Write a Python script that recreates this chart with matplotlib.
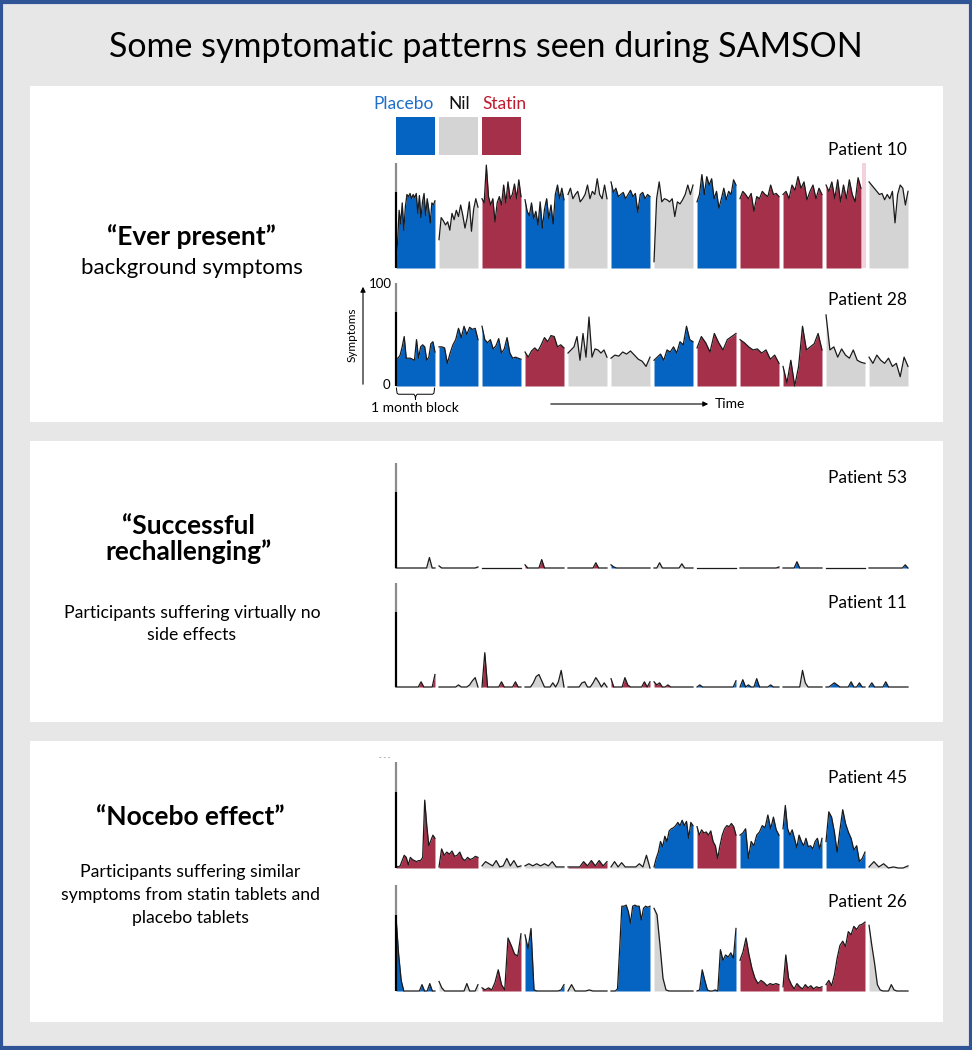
import numpy as np
import matplotlib.pyplot as plt
from matplotlib.patches import Rectangle
from matplotlib.transforms import blended_transform_factory

plt.rcParams["font.family"] = ["Lato", "DejaVu Sans"]

W, H = 972, 1050

# 配色：安慰剂 / 空白期 / 他汀
ARM_COLORS = {"P": "#0563C1", "N": "#D4D4D4", "S": "#A5304A"}
ARM_NAMES = ["Placebo", "Nil", "Statin"]
ARM_TEXT_COLORS = ["#1F6FC8", "#111111", "#C01A2E"]

# 每个病人：12 个月块的用药顺序 + 每块的症状评分 (0-100)
p10_arms = "PNSPNPNPSSSN"
p10_vals = [
    [3, 25, 55, 42, 62, 36, 58, 70, 68, 71, 66, 70, 67, 71, 52, 69, 48, 63, 71, 50, 66, 56, 43, 62, 60, 64],
    [27, 48, 45, 41, 44, 36, 52, 46, 55, 49, 60, 50, 38, 48, 63, 35, 56, 66, 58],
    [66, 62, 98, 68, 60, 66, 44, 62, 68, 60, 79, 62, 82, 66, 70, 80, 66, 84, 68],
    [65, 54, 50, 62, 47, 54, 41, 63, 38, 56, 66, 47, 60, 42, 70, 79, 66, 76, 65],
    [70, 76, 66, 70, 73, 63, 66, 70, 79, 66, 73, 70, 85, 70, 66, 79, 66],
    [82, 72, 76, 68, 70, 72, 66, 70, 74, 68, 71, 53, 70, 72, 66, 70, 68],
    [6, 66, 82, 63, 66, 65, 63, 66, 49, 63, 61, 65, 70, 79, 70, 79],
    [63, 70, 89, 70, 87, 79, 85, 66, 73, 57, 66, 76, 65, 73, 70, 84, 79],
    [66, 73, 70, 66, 71, 54, 68, 66, 73, 70, 68, 79, 70, 71, 68],
    [70, 73, 66, 79, 74, 87, 76, 82, 65, 73, 79, 66, 76, 70],
    [79, 73, 82, 66, 84, 63, 79, 66, 84, 70, 63, 86, 76],
    [82, 79, 76, 73, 70, 71, 65, 70, 66, 73, 43, 70, 79, 76, 60, 73],
]
p10_missing = {10: 26}  # 第 11 块只记录到第 26 天

p28_arms = "PPPSNNPSSSNN"
p28_vals = [
    [27, 27, 30, 38, 48, 27, 27, 27, 26, 25, 45, 27, 38, 40, 38, 25, 28, 41, 43, 33],
    [38, 38, 37, 22, 32, 40, 45, 56, 47, 58, 50, 57, 55, 56, 45],
    [58, 45, 42, 45, 36, 39, 46, 32, 36, 47, 32, 27, 28, 27, 26],
    [33, 28, 34, 37, 34, 40, 47, 43, 49, 48, 38, 40, 37],
    [32, 35, 38, 48, 25, 51, 28, 67, 28, 36, 35, 32, 35, 28],
    [27, 30, 29, 33, 31, 34, 30, 26, 24, 19, 28],
    [25, 28, 31, 25, 35, 33, 38, 32, 43, 40, 58, 45, 43],
    [37, 48, 42, 33, 51, 42, 35, 45, 48, 51],
    [45, 42, 38, 35, 36, 32, 35, 26, 30, 22],
    [19, 3, 25, 0, 19, 58, 35, 38, 41, 51, 35],
    [69, 35, 38, 28, 36, 30, 27, 35, 25, 23, 22],
    [28, 22, 30, 25, 22, 27, 19, 22, 9, 28, 19],
]

p53_arms = "NNSSSPNPSPNP"
p53_vals = [
    [0, 0, 0, 0, 0, 0, 0, 0, 0, 0, 0, 0, 10, 0, 0],
    [2, 0, 0, 0, 0, 0, 0, 0, 0, 0, 0, 0, 0, 0, 1],
    [0, 0, 0, 0, 0, 0, 0, 0, 0, 0, 0, 0, 0, 0, 0],
    [3, 0, 0, 0, 0, 0, 8, 0, 0, 0, 0, 0, 0, 0, 0],
    [0, 0, 0, 0, 0, 0, 0, 0, 0, 0, 5, 0, 0, 0, 0],
    [3, 1, 0, 0, 0, 0, 0, 0, 0, 0, 0, 0, 0, 0, 0],
    [0, 0, 5, 0, 0, 0, 0, 0, 0, 0, 4, 0, 0, 0, 0],
    [0, 0, 0, 0, 0, 0, 0, 0, 0, 0, 0, 0, 0, 0, 0],
    [0, 0, 0, 0, 0, 0, 0, 0, 0, 0, 0, 0, 0, 0, 1],
    [0, 0, 0, 0, 0, 6, 0, 0, 0, 0, 0, 0, 0, 0, 0],
    [0, 0, 0, 0, 0, 0, 0, 0, 0, 0, 0, 0, 0, 0, 0],
    [0, 0, 0, 0, 0, 0, 0, 0, 0, 0, 0, 0, 0, 3, 0],
]

p11_arms = "SNSNNSSPPNPP"
p11_vals = [
    [0, 0, 0, 0, 0, 0, 0, 0, 0, 5, 0, 0, 0, 0, 12],
    [0, 0, 0, 0, 0, 0, 0, 2, 0, 0, 0, 2, 6, 9, 0],
    [0, 33, 0, 0, 0, 0, 0, 5, 0, 0, 0, 0, 5, 0, 0],
    [0, 0, 0, 4, 10, 12, 6, 0, 0, 0, 4, 0, 5, 16, 0],
    [0, 0, 0, 0, 0, 4, 5, 0, 0, 4, 9, 5, 0, 4, 0],
    [8, 0, 0, 0, 0, 9, 2, 0, 0, 0, 0, 0, 5, 0, 5],
    [5, 2, 4, 0, 0, 2, 0, 0, 0, 0, 0, 0, 0, 0, 0],
    [0, 2, 0, 0, 0, 0, 0, 0, 0, 0, 0, 0, 0, 0, 6],
    [0, 7, 0, 2, 0, 0, 8, 0, 0, 0, 0, 2, 0, 0, 0],
    [0, 0, 0, 0, 0, 0, 0, 16, 4, 0, 0, 0, 0, 0, 0],
    [0, 0, 2, 4, 2, 0, 0, 0, 0, 5, 0, 0, 4, 0, 0],
    [0, 4, 0, 0, 0, 0, 5, 0, 0, 0, 0, 0, 0, 0, 0],
]

p45_arms = "SSNNSNPSPPPN"
p45_vals = [
    [2, 1, 2, 7, 12, 10, 3, 10, 8, 7, 6, 7, 7, 10, 64, 40, 21, 26, 31, 28],
    [1, 18, 12, 15, 13, 16, 11, 12, 15, 9, 7, 10, 8, 9, 11, 10],
    [2, 6, 4, 2, 7, 1, 2, 9, 2, 7, 1, 2],
    [2, 4, 2, 4, 2, 4, 2, 6, 1, 1, 1],
    [1, 1, 1, 1, 6, 2, 7, 2, 7, 2, 6],
    [1, 6, 1, 5, 1, 1, 1, 1, 4, 1, 12, 0],
    [1, 9, 15, 25, 20, 30, 25, 35, 37, 38, 40, 43, 40, 45, 40, 44, 28, 43, 40],
    [39, 31, 36, 33, 34, 31, 35, 25, 21, 9, 21, 31, 37, 40, 39, 42, 39, 31],
    [31, 33, 37, 9, 25, 21, 31, 34, 40, 38, 50, 37, 48, 36, 31],
    [37, 59, 37, 31, 36, 28, 19, 31, 25, 21, 28, 20, 21, 18, 25, 28, 18, 28],
    [25, 53, 48, 34, 15, 36, 55, 42, 34, 28, 17, 21, 6, 9, 15],
    [1, 6, 1, 4, 0, 1, 0, 0, 2],
]

p26_arms = "PNSPNPNPSSSN"
p26_vals = [
    [70, 35, 10, 0, 0, 0, 0, 0, 0, 0, 6, 0, 0, 7, 0, 0],
    [9, 3, 0, 0, 0, 0, 0, 0, 0, 0, 7, 0, 0, 0, 6],
    [3, 1, 3, 1, 8, 20, 6, 1, 50, 43, 35, 33, 54],
    [53, 40, 59, 1, 0, 0, 0, 0, 0, 0, 0, 0, 1, 6],
    [0, 6, 0, 0, 0, 0, 1, 0, 0, 0, 0, 0],
    [0, 0, 0, 2, 40, 80, 80, 81, 75, 64, 80, 81, 80, 80, 67, 78, 80, 79, 80],
    [78, 72, 43, 12, 1, 0, 0, 0, 0, 0, 0, 0, 0, 0],
    [0, 1, 20, 10, 1, 0, 0, 1, 0, 39, 29, 34, 32, 36, 31, 59],
    [29, 37, 50, 34, 21, 12, 7, 10, 8, 5, 7, 6, 7, 6],
    [4, 34, 12, 6, 2, 7, 4, 2, 6, 3, 5, 2, 4, 3, 4],
    [6, 10, 5, 15, 31, 43, 47, 42, 56, 53, 61, 58, 62, 63, 65],
    [62, 43, 26, 6, 1, 0, 0, 0, 6, 1, 0, 0, 0, 0, 0],
]

BLOCK_DAYS = 29
BLOCK_STEP = 32
N_BLOCKS = 12


def fx(px):
    return px / W


def fy(py):
    return 1 - py / H


def add_patient(fig, top, bottom, label_y, name, arms, vals, missing=None):
    left, right = 396, 908
    ax = fig.add_axes([fx(left), fy(bottom), (right - left) / W, (bottom - top) / H])
    ax.set_xlim(0, N_BLOCKS * BLOCK_STEP - (BLOCK_STEP - BLOCK_DAYS))
    ax.set_ylim(0, 100)
    ax.axis("off")
    missing = missing or {}
    for i, (arm, v) in enumerate(zip(arms, vals)):
        days = missing.get(i, BLOCK_DAYS)
        x = i * BLOCK_STEP + np.linspace(0, days, len(v))
        ax.fill_between(x, 0, v, color=ARM_COLORS[arm], lw=0)
        ax.plot(x, v, color="#1a1a1a", lw=0.9, clip_on=False)
        if days < BLOCK_DAYS:
            ax.axvspan(i * BLOCK_STEP + days + 0.6, i * BLOCK_STEP + BLOCK_DAYS + 0.4,
                       color="#F2D3DB", lw=0)
    # 左侧竖线
    ax.plot([0, 0], [0, 72], color="black", lw=1.6, clip_on=False, solid_capstyle="butt")
    ax.plot([0, 0], [72, 100], color="#8c8c8c", lw=1.6, clip_on=False, solid_capstyle="butt")
    fig.text(fx(907), fy(label_y), name, ha="right", va="center", fontsize=12.5)
    return ax


fig = plt.figure(figsize=(W / 100, H / 100), dpi=100)
fig.patch.set_facecolor("#E7E7E7")
fig.add_artist(Rectangle((0.0015, 0.0015), 0.997, 0.997, transform=fig.transFigure,
                         fill=False, edgecolor="#2F5597", lw=3, zorder=5))

# 白色面板
for top, bottom in [(86, 422), (441, 722), (741, 1022)]:
    fig.add_artist(Rectangle((fx(30), fy(bottom)), (943 - 30) / W, (bottom - top) / H,
                             transform=fig.transFigure, facecolor="white", edgecolor="none",
                             zorder=-1))

fig.text(0.5, fy(47), "Some symptomatic patterns seen during SAMSON",
         ha="center", va="center", fontsize=24.5)

# 左侧说明文字
fig.text(fx(191), fy(237), "\u201cEver present\u201d", ha="center", va="center",
         fontsize=19, fontweight="bold")
fig.text(fx(192), fy(268), "background symptoms", ha="center", va="center", fontsize=16)

fig.text(fx(188), fy(539), "\u201cSuccessful\nrechallenging\u201d", ha="center", va="center",
         fontsize=19, fontweight="bold", linespacing=1.1)
fig.text(fx(192), fy(624), "Participants suffering virtually no\nside effects",
         ha="center", va="center", fontsize=12.7, linespacing=1.5)

fig.text(fx(190), fy(817), "\u201cNocebo effect\u201d", ha="center", va="center",
         fontsize=19, fontweight="bold")
fig.text(fx(190), fy(895), "Participants suffering similar\nsymptoms from statin tablets and\nplacebo tablets",
         ha="center", va="center", fontsize=12.7, linespacing=1.5)

ax10 = add_patient(fig, 163, 268, 150, "Patient 10", p10_arms, p10_vals, p10_missing)
ax28 = add_patient(fig, 283, 386, 300, "Patient 28", p28_arms, p28_vals)
ax53 = add_patient(fig, 463, 568, 478, "Patient 53", p53_arms, p53_vals)
ax11 = add_patient(fig, 583, 687, 603, "Patient 11", p11_arms, p11_vals)
ax45 = add_patient(fig, 762, 868, 778, "Patient 45", p45_arms, p45_vals)
ax26 = add_patient(fig, 885, 991, 902, "Patient 26", p26_arms, p26_vals)

# 图例方块
for i, arm in enumerate("PNS"):
    ax10.add_patch(Rectangle((i * BLOCK_STEP, 107.5), BLOCK_DAYS, 36,
                             facecolor=ARM_COLORS[arm], edgecolor="none", clip_on=False))
for cx, label, tc in zip([404, 459, 504], ARM_NAMES, ARM_TEXT_COLORS):
    fig.text(fx(cx), fy(104), label, ha="center", va="center", fontsize=12.5, color=tc)

# 坐标说明
fig.text(fx(392), fy(284), "100", ha="right", va="center", fontsize=9.5)
fig.text(fx(390), fy(385), "0", ha="right", va="center", fontsize=9.5)
fig.text(fx(352), fy(335), "Symptoms", ha="center", va="center", fontsize=8.5, rotation=90)
fig.add_artist(plt.Annotation("", xy=(fx(363), fy(284)), xytext=(fx(363), fy(387)),
                              xycoords="figure fraction",
                              arrowprops=dict(arrowstyle="-|>,head_width=0.15,head_length=0.3",
                                              lw=0.8, color="black")))
fig.add_artist(plt.Annotation("", xy=(fx(711), fy(404)), xytext=(fx(548), fy(404)),
                              xycoords="figure fraction",
                              arrowprops=dict(arrowstyle="-|>,head_width=0.15,head_length=0.3",
                                              lw=0.8, color="black")))
fig.text(fx(715), fy(404), "Time", ha="left", va="center", fontsize=10)

# 一个月块的花括号
tr = blended_transform_factory(ax28.transData, ax28.transAxes)
bx = np.array([0.3, 0.8, 1.8, 13.3, 14.3, 14.5, 14.7, 15.7, 27.2, 28.2, 28.7])
by = np.array([-0.02, -0.07, -0.08, -0.08, -0.10, -0.13, -0.10, -0.08, -0.08, -0.07, -0.02])
ax28.plot(bx, by, color="black", lw=0.7, transform=tr, clip_on=False)
fig.text(fx(415), fy(408), "1 month block", ha="center", va="center", fontsize=10)

fig.text(fx(385), fy(757), "- - -", ha="center", va="center", fontsize=5, color="#777777")

fig.savefig("out.png", dpi=100, facecolor=fig.get_facecolor())
